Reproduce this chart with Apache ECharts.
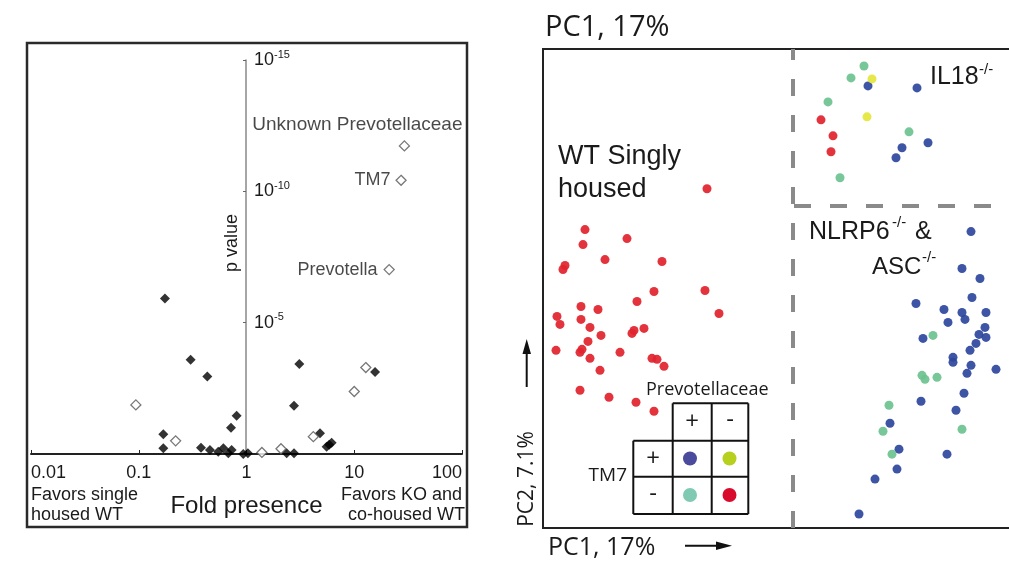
<!DOCTYPE html>
<html><head><meta charset="utf-8">
<script src="https://cdn.jsdelivr.net/npm/echarts@6/dist/echarts.min.js"></script>
<style>html,body{margin:0;padding:0;background:#fff}#c{width:1009px;height:564px}</style>
</head><body><div id="c"></div>
<script>
// ===== Left panel: fold presence vs p value ([fold, -log10(p)]) =====
const xTickLabels = ['0.01', '0.1', '1', '10', '100'];
const yTickExponents = {5: '-5', 10: '-10', 15: '-15'};
const openPoints = [
  [29.2, 11.73], [27.2, 10.42], [21.1, 7.02], [12.8, 3.29], [10.0, 2.38],
  [0.094, 1.87], [0.22, 0.50], [4.17, 0.66], [1.39, 0.06], [2.09, 0.20]
];
const openNames = ['Unknown Prevotellaceae', 'TM7', 'Prevotella', '', '', '', '', '', '', ''];
const filledPoints = [
  [0.175, 5.92], [0.303, 3.59], [0.433, 2.95], [0.81, 1.46], [0.718, 1.0],
  [0.169, 0.75], [0.169, 0.22], [0.378, 0.24], [0.458, 0.15], [0.547, 0.09],
  [0.61, 0.22], [0.678, 0.03], [0.728, 0.15], [0.933, 0.0], [1.03, 0.03],
  [3.09, 3.43], [2.76, 1.84], [15.6, 3.12], [4.81, 0.79], [5.54, 0.28],
  [5.85, 0.35], [6.17, 0.43], [2.36, 0.03], [2.76, 0.03]
];

// ===== Right panel: PCA scores [PC1, PC2] =====
const redPts = [
  [-0.076, 0.100], [-0.198, 0.059], [-0.156, 0.050], [-0.200, 0.044], [-0.178, 0.029],
  [-0.218, 0.023], [-0.220, 0.019], [-0.121, 0.027], [-0.078, -0.002], [-0.129, -0.003],
  [-0.146, -0.013], [-0.202, -0.018], [-0.185, -0.021], [-0.064, -0.025], [-0.226, -0.028],
  [-0.223, -0.036], [-0.202, -0.031], [-0.193, -0.039], [-0.149, -0.042], [-0.151, -0.045],
  [-0.139, -0.040], [-0.182, -0.047], [-0.195, -0.053], [-0.227, -0.062], [-0.203, -0.064],
  [-0.201, -0.061], [-0.193, -0.070], [-0.163, -0.064], [-0.131, -0.070], [-0.126, -0.071],
  [-0.119, -0.078], [-0.183, -0.082], [-0.203, -0.102], [-0.174, -0.109], [-0.147, -0.114],
  [-0.129, -0.123],
  [0.038, 0.169], [0.050, 0.153], [0.048, 0.137]
];
const bluePts = [
  [0.085, 0.203], [0.134, 0.201], [0.145, 0.146], [0.119, 0.141], [0.113, 0.131],
  [0.188, 0.057], [0.179, 0.020], [0.197, 0.010], [0.189, -0.009], [0.133, -0.015],
  [0.161, -0.021], [0.179, -0.024], [0.203, -0.024], [0.182, -0.031], [0.165, -0.034],
  [0.202, -0.039], [0.196, -0.046], [0.203, -0.049], [0.140, -0.050], [0.193, -0.055],
  [0.187, -0.062], [0.170, -0.069], [0.170, -0.074], [0.188, -0.077], [0.213, -0.081],
  [0.184, -0.085], [0.181, -0.105], [0.138, -0.113], [0.173, -0.122], [0.107, -0.135],
  [0.116, -0.161], [0.164, -0.166], [0.114, -0.181], [0.092, -0.191], [0.076, -0.226]
];
const greenPts = [
  [0.081, 0.223], [0.068, 0.211], [0.045, 0.187], [0.126, 0.157], [0.057, 0.111],
  [0.150, -0.047], [0.139, -0.087], [0.142, -0.091], [0.154, -0.089], [0.106, -0.117],
  [0.179, -0.141], [0.100, -0.143], [0.109, -0.166]
];
const yellowPts = [[0.089, 0.210], [0.084, 0.172]];
const dividerPC1 = 0.011;
const dividerPC2 = 0.083;

// ===== styling / layout =====
const SANS = 'Liberation Sans';
const MYR = 'Open Sans';
const labelStyles = {
  'Unknown Prevotellaceae': {position: 'top', distance: 5, offset: [-47, -1], fontSize: 19},
  'TM7': {position: 'left', distance: 5},
  'Prevotella': {position: 'left', distance: 6}
};

const chart = echarts.init(document.getElementById('c'), null, {renderer: 'canvas'});

function txt(text, x, y, size, opts) {
  return Object.assign({
    type: 'text', x: x, y: y, silent: true,
    style: Object.assign({text: text, font: size + 'px "' + SANS + '"', fill: '#1a1a1a',
      align: 'left', verticalAlign: 'middle'}, (opts && opts.style) || {})
  }, (opts && opts.el) || {});
}

const graphics = [
  // left panel frame
  {type: 'rect', shape: {x: 27, y: 43, width: 440, height: 484}, silent: true,
   style: {fill: 'none', stroke: '#2a2a2a', lineWidth: 2.5}},
  txt('Favors single', 31, 495, 18),
  txt('housed WT', 31, 515, 18),
  txt('Favors KO and', 462, 495, 18, {style: {align: 'right'}}),
  txt('co-housed WT', 465, 515, 18, {style: {align: 'right'}}),
  txt('p value', 232, 243, 18, {style: {align: 'center'}, el: {rotation: Math.PI / 2}}),
  // right panel texts
  txt('PC1, 17%', 545, 28, 29, {style: {font: '29px "' + MYR + '"'}}),
  txt('PC1, 17%', 548, 548, 25, {style: {font: '25px "' + MYR + '"'}}),
  txt('PC2, 7.1%', 527, 479, 21, {style: {font: '21px "' + MYR + '"', align: 'center'}, el: {rotation: Math.PI / 2}}),
  txt('WT Singly', 558, 157, 27),
  txt('housed', 558, 190, 27),
  txt('IL18', 930, 77, 25),
  txt('-/-', 979, 70, 15),
  txt('NLRP6', 809, 232, 25),
  txt('-/-', 892, 223, 15),
  txt('&', 915, 232, 25),
  txt('ASC', 872, 267, 24),
  txt('-/-', 922, 258, 15),
  // arrows
  {type: 'line', shape: {x1: 685, y1: 545.7, x2: 720, y2: 545.7}, silent: true, style: {stroke: '#111', lineWidth: 2}},
  {type: 'polygon', shape: {points: [[716, 541.5], [732, 545.7], [716, 550]]}, silent: true, style: {fill: '#111'}},
  {type: 'line', shape: {x1: 526.7, y1: 387, x2: 526.7, y2: 350}, silent: true, style: {stroke: '#111', lineWidth: 2}},
  {type: 'polygon', shape: {points: [[522.5, 354], [526.7, 339], [531, 354]]}, silent: true, style: {fill: '#111'}},
  // legend table
  txt('Prevotellaceae', 646, 390, 18, {style: {font: '18px "' + MYR + '"'}}),
  txt('TM7', 627, 476, 19, {style: {font: '19px "' + MYR + '"', align: 'right'}})
];
// table grid lines
const tblStroke = {stroke: '#111', lineWidth: 2};
[[672.7, 403.3, 748.3, 403.3], [633.3, 440.7, 748.3, 440.7], [633.3, 476.7, 748.3, 476.7], [633.3, 514, 748.3, 514],
 [633.3, 440.7, 633.3, 514], [672.7, 403.3, 672.7, 514], [711.7, 403.3, 711.7, 514], [748.3, 403.3, 748.3, 514]]
  .forEach(l => graphics.push({type: 'line', silent: true, shape: {x1: l[0], y1: l[1], x2: l[2], y2: l[3]}, style: tblStroke}));
graphics.push(txt('+', 692, 422, 24, {style: {font: '24px "' + MYR + '"', align: 'center'}}));
graphics.push(txt('-', 730, 420, 24, {style: {font: '24px "' + MYR + '"', align: 'center'}}));
graphics.push(txt('+', 653, 459, 24, {style: {font: '24px "' + MYR + '"', align: 'center'}}));
graphics.push(txt('-', 653, 494, 24, {style: {font: '24px "' + MYR + '"', align: 'center'}}));
[[690, 458.5, '#4a4b9c'], [729.5, 458.5, '#b7cf1d'], [690, 495, '#80c9b2'], [729.5, 495, '#d80b2d']]
  .forEach(d => graphics.push({type: 'circle', silent: true, shape: {cx: d[0], cy: d[1], r: 7}, style: {fill: d[2]}}));

function ptSeries(name, data, color) {
  return {
    name: name, type: 'scatter', xAxisIndex: 1, yAxisIndex: 1, data: data,
    symbolSize: 9, clip: false, itemStyle: {color: color, opacity: 0.92}, silent: true
  };
}

const option = {
  animation: false,
  backgroundColor: '#fff',
  grid: [
    {left: 31, top: 60, width: 431, height: 394, outerBoundsMode: 'none'},
    {left: 543, top: 49, width: 480, height: 479, outerBoundsMode: 'none',
     show: true, borderColor: '#222', borderWidth: 2, backgroundColor: 'transparent'}
  ],
  xAxis: [
    {
      gridIndex: 0, type: 'log', logBase: 10, min: 0.01, max: 100,
      axisLine: {show: true, lineStyle: {color: '#222', width: 2}},
      axisTick: {show: true, inside: true, length: 4, lineStyle: {color: '#222'}},
      splitLine: {show: false}, minorTick: {show: false},
      axisLabel: {
        margin: 10, fontFamily: SANS, fontSize: 18, color: '#1a1a1a',
        alignMinLabel: 'left', alignMaxLabel: 'right',
        formatter: v => xTickLabels[Math.round(Math.log10(v)) + 2]
      },
      name: 'Fold presence', nameLocation: 'middle', nameGap: 40,
      nameTextStyle: {fontFamily: SANS, fontSize: 24, color: '#1a1a1a'}
    },
    {gridIndex: 1, type: 'value', min: -0.24, max: 0.24, show: false}
  ],
  yAxis: [
    {
      gridIndex: 0, type: 'value', min: 0, max: 15, interval: 5, offset: -215,
      axisLine: {show: true, lineStyle: {color: '#888', width: 1.5}},
      axisTick: {show: true, inside: false, length: 3, lineStyle: {color: '#666'}},
      splitLine: {show: false},
      axisLabel: {
        inside: true, margin: 8, color: '#1a1a1a',
        formatter: v => yTickExponents[v] ? '{b|10}{s|' + yTickExponents[v] + '}' : '',
        rich: {
          b: {fontFamily: SANS, fontSize: 18, color: '#1a1a1a', lineHeight: 22},
          s: {fontFamily: SANS, fontSize: 11, color: '#1a1a1a', verticalAlign: 'top', lineHeight: 22}
        }
      }
    },
    {gridIndex: 1, type: 'value', min: -0.24, max: 0.24, show: false}
  ],
  series: [
    {
      name: 'filled', type: 'scatter', xAxisIndex: 0, yAxisIndex: 0, symbol: 'diamond',
      symbolSize: 10, clip: false, silent: true, itemStyle: {color: '#000'},
      data: filledPoints
    },
    {
      name: 'open', type: 'scatter', xAxisIndex: 0, yAxisIndex: 0, symbol: 'diamond',
      symbolSize: 10, clip: false, silent: true,
      itemStyle: {color: '#fff', borderColor: '#555', borderWidth: 1.3},
      label: {fontFamily: SANS, fontSize: 18, color: '#1a1a1a', formatter: '{b}'},
      data: openPoints.map((p, i) => ({
        value: p, name: openNames[i],
        label: openNames[i] ? Object.assign({show: true, color: '#1a1a1a'}, labelStyles[openNames[i]]) : {show: false}
      }))
    },
    Object.assign(ptSeries('Prevotellaceae- TM7-', redPts, '#e1232e'), {
      markLine: {
        silent: true, symbol: 'none', label: {show: false},
        lineStyle: {color: '#8a8a8a', width: 4, type: [17, 19], opacity: 1},
        data: [
          {xAxis: dividerPC1},
          [{coord: [dividerPC1, dividerPC2]}, {coord: [0.24, dividerPC2]}]
        ]
      }
    }),
    ptSeries('Prevotellaceae+ TM7+', bluePts, '#2c479c'),
    ptSeries('Prevotellaceae+ TM7-', greenPts, '#6cc28f'),
    ptSeries('Prevotellaceae- TM7+', yellowPts, '#e4e63a')
  ],
  graphic: {elements: graphics}
};
chart.setOption(option);
</script>
</body></html>
